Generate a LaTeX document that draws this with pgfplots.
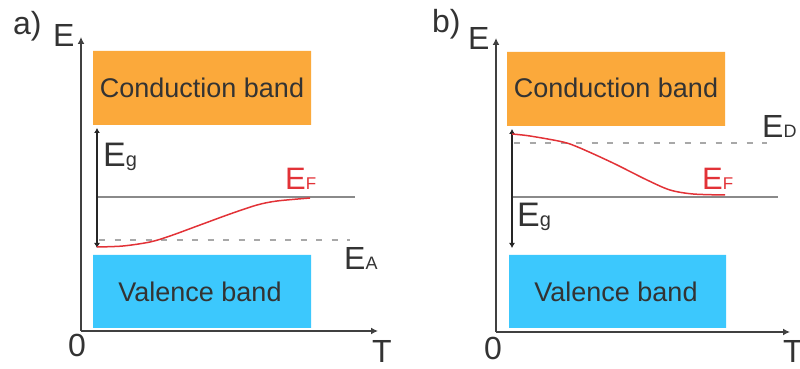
\documentclass[border=0pt]{standalone}
\usepackage{pgfplots}
\pgfplotsset{compat=1.18}
\usepackage{fontspec}
\setmainfont{Liberation Sans}
\usetikzlibrary{arrows.meta}

\definecolor{cband}{HTML}{FBA93B}
\definecolor{vband}{HTML}{3CC8FD}
\definecolor{efred}{HTML}{E23237}
\definecolor{txt}{HTML}{333333}
\definecolor{axgray}{HTML}{404040}
\definecolor{lvl}{HTML}{8A8A8A}
\definecolor{dashgray}{HTML}{A8A8A8}

\newcommand{\fs}[1]{\fontsize{#1}{#1}\selectfont}

\tikzset{lab/.style={anchor=base west, inner sep=0pt, text=txt}}

% band diagram panel: pixel-like data units (1 unit = 1pt)
\pgfplotsset{
  banddiagram/.style={
    scale only axis, anchor=south west, clip=false,
    axis lines=left, ticks=none,
    axis line style={line width=2pt, draw=axgray,
      -{Latex[length=7pt,width=7pt]}},
  },
  band/.style={draw=none, fill=#1, forget plot},
  gaparrow/.style={line width=2pt, draw=black!85,
    {Latex[length=5pt,width=6pt]}-{Latex[length=5pt,width=6pt]}},
  level/.style={line width=1.3pt, draw=lvl},
  acclevel/.style={line width=2pt, draw=dashgray, dash pattern=on 6pt off 9.5pt},
  fermi/.style={line width=1.5pt, draw=efred, smooth},
}

\begin{document}
\begin{tikzpicture}
\useasboundingbox (0,0) rectangle (800pt,369pt);

% ---------------- a) p-type ----------------
\begin{axis}[banddiagram, at={(81pt,38pt)}, width=297pt, height=294pt,
  xmin=81, xmax=378, ymin=38, ymax=332]
  \addplot[band=cband] coordinates {(93,244) (311,244) (311,318) (93,318) (93,244)};
  \addplot[band=vband] coordinates {(93,41) (311,41) (311,114) (93,114) (93,41)};
  \addplot[level] coordinates {(97,172) (355,172)};
  \addplot[acclevel] coordinates {(99,129) (350,129)};
  \addplot[gaparrow] coordinates {(97,121) (97,241)};
  \addplot[fermi] coordinates {(97,122) (123,123) (150,127) (170,133)
    (200,144) (230,155) (257,164) (277,168) (310,171)};
  \node[lab, font=\fs{27}, anchor=center] at (axis cs:202,281) {Conduction band};
  \node[lab, font=\fs{27}, anchor=center] at (axis cs:200,77) {Valence band};
  \node[lab] at (axis cs:103,202) {\fs{34}E\fs{20}g};
  \node[lab, text=efred] at (axis cs:285,179) {\fs{31}E\fs{17}F};
  \node[lab] at (axis cs:344,99) {\fs{32}E\fs{18}A};
\end{axis}
\node[lab, font=\fs{32}] at (13pt,334pt) {a)};
\node[lab, font=\fs{32}] at (53pt,322pt) {E};
\node[lab, font=\fs{32}, anchor=base] at (77pt,12pt) {0};
\node[lab, font=\fs{32}] at (372pt,6pt) {T};

% ---------------- b) n-type ----------------
\begin{axis}[banddiagram, at={(496pt,37pt)}, width=294pt, height=294pt,
  xmin=496, xmax=790, ymin=37, ymax=331]
  \addplot[band=cband] coordinates {(507,243) (725,243) (725,317) (507,317) (507,243)};
  \addplot[band=vband] coordinates {(509,41) (726,41) (726,114) (509,114) (509,41)};
  \addplot[level] coordinates {(512,172) (778,172)};
  \addplot[acclevel] coordinates {(514,226) (767,226)};
  \addplot[gaparrow] coordinates {(512,121) (512,240)};
  \addplot[fermi] coordinates {(512,235) (530,233) (563,227) (580,221)
    (613,206) (647,189) (670,179) (693,175) (725,174)};
  \node[lab, font=\fs{27}, anchor=center] at (axis cs:616,281) {Conduction band};
  \node[lab, font=\fs{27}, anchor=center] at (axis cs:616,77) {Valence band};
  \node[lab] at (axis cs:517,142) {\fs{34}E\fs{20}g};
  \node[lab, text=efred] at (axis cs:702,179) {\fs{31}E\fs{17}F};
  \node[lab] at (axis cs:762,231) {\fs{32}E\fs{18}D};
\end{axis}
\node[lab, font=\fs{32}] at (432pt,336pt) {b)};
\node[lab, font=\fs{32}] at (468pt,319pt) {E};
\node[lab, font=\fs{32}, anchor=base] at (493pt,9pt) {0};
\node[lab, font=\fs{32}] at (783pt,6pt) {T};
\end{tikzpicture}
\end{document}
